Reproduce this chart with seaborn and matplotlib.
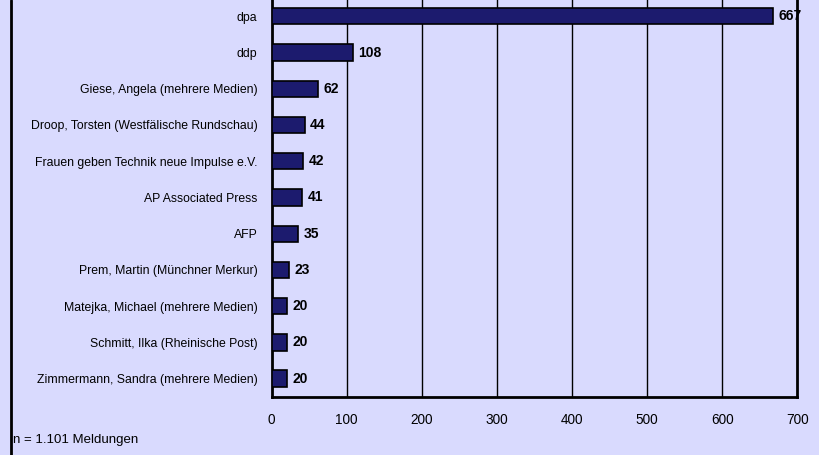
import matplotlib
matplotlib.use("Agg")
import matplotlib.pyplot as plt
import seaborn as sns
import pandas as pd
from matplotlib.lines import Line2D

categories = [
    "dpa",
    "ddp",
    "Giese, Angela (mehrere Medien)",
    "Droop, Torsten (Westfälische Rundschau)",
    "Frauen geben Technik neue Impulse e.V.",
    "AP Associated Press",
    "AFP",
    "Prem, Martin (Münchner Merkur)",
    "Matejka, Michael (mehrere Medien)",
    "Schmitt, Ilka (Rheinische Post)",
    "Zimmermann, Sandra (mehrere Medien)",
]
values = [667, 108, 62, 44, 42, 41, 35, 23, 20, 20, 20]
x_ticks = [0, 100, 200, 300, 400, 500, 600, 700]
note = "n = 1.101 Meldungen"

bg = "#D9DAFE"
bar_color = "#1C1B6E"

sns.set_theme(style="white")
plt.rcParams["font.family"] = ["Liberation Sans", "DejaVu Sans"]
plt.rcParams["text.color"] = "black"
plt.rcParams["xtick.color"] = "black"
plt.rcParams["ytick.color"] = "black"
plt.rcParams["xtick.labelcolor"] = "black"
plt.rcParams["ytick.labelcolor"] = "black"

df = pd.DataFrame({"Quelle": categories, "Meldungen": values})

fig = plt.figure(figsize=(8.2, 4.55), dpi=100)
fig.patch.set_facecolor(bg)
ax = fig.add_axes([271.5 / 820, 1 - 396.7 / 455, (797.3 - 271.5) / 820, (396.7 + 1.8) / 455])
ax.set_facecolor(bg)

sns.barplot(data=df, x="Meldungen", y="Quelle", orient="h", color=bar_color,
            edgecolor="black", linewidth=1.2, width=0.45, saturation=1, ax=ax, zorder=3)

ax.set_xlim(0, 700)
ax.set_ylim(len(categories) - 0.5, -0.5)
ax.set_xticks(x_ticks)
ax.set_xticklabels([str(t) for t in x_ticks], fontsize=9.8, color="black")
ax.tick_params(axis="x", direction="out", length=4, width=1.2, color="black", pad=8)
ax.tick_params(axis="y", length=0, pad=10, labelsize=8.8, labelcolor="black")
ax.set_xlabel("")
ax.set_ylabel("")

for t in x_ticks[1:-1]:
    ax.axvline(t, color="black", lw=1.0, zorder=1)

for side in ["left", "bottom", "right"]:
    ax.spines[side].set_visible(True)
    ax.spines[side].set_color("black")
    ax.spines[side].set_linewidth(2)
ax.spines["top"].set_visible(False)

for c in ax.containers:
    ax.bar_label(c, labels=[str(v) for v in values], padding=4,
                 fontsize=10, fontweight="bold", color="black", zorder=5)

fig.add_artist(Line2D([11 / 820, 11 / 820], [0, 1], color="black", lw=2, transform=fig.transFigure))
fig.text(13 / 820, 1 - 440 / 455, note, fontsize=9.5, va="center", ha="left", color="black")

fig.savefig("out.png", dpi=100, facecolor=bg)
